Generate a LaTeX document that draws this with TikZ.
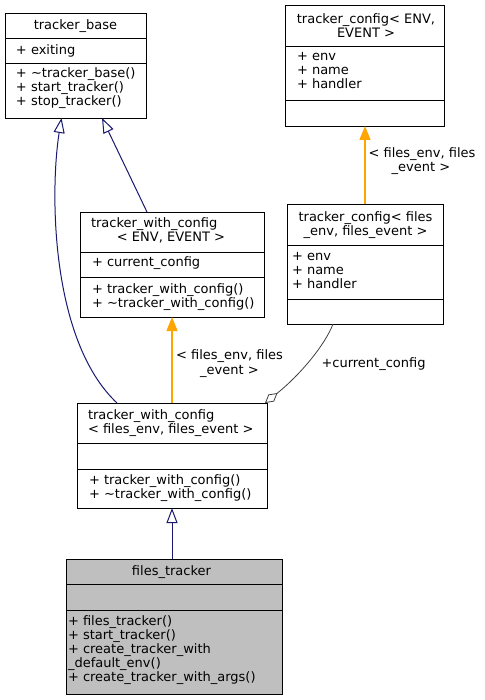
\documentclass[tikz,border=0pt]{standalone}
\usepackage{fontspec}
\setmainfont{DejaVu Sans}
\usetikzlibrary{arrows.meta}
\definecolor{navyc}{HTML}{191970}
\definecolor{orangec}{HTML}{FFA500}
\definecolor{aggc}{HTML}{404040}
\definecolor{grayfill}{HTML}{BFBFBF}
\begin{document}
\begin{tikzpicture}[x=1pt,y=-1pt,
  cls/.style={draw=black, line width=0.9pt, inner sep=0pt, outer sep=0pt, anchor=north west},
  divider/.style={draw=black, line width=0.9pt},
  txt/.style={inner sep=0pt, outer sep=0pt, font=\fontsize{13}{14}\selectfont},
  inh/.style={draw=navyc, line width=1pt, -{Triangle[open, length=15pt, width=11pt]}},
  tmpl/.style={draw=orangec, line width=1.4pt, -{Triangle[length=14pt, width=11pt]}},
  agg/.style={draw=aggc, line width=0.8pt, -{Diamond[open, length=16pt, width=9pt]}}]
\useasboundingbox (0,0) rectangle (484,700);

% ---------- tracker_base ----------
\node[cls, minimum width=141pt, minimum height=105pt] (tb) at (5,13) {};
\draw[divider] (5,38) -- (146,38);
\draw[divider] (5,63) -- (146,63);
\node[txt, anchor=base] (tbt) at (75.5,30) {tracker\_base};
\node[txt, anchor=base west] (tba1) at (16,55) {+ exiting};
\node[txt, anchor=base west] (tbm1) at (16,78) {+ \textasciitilde tracker\_base()};
\node[txt, anchor=base west] (tbm2) at (16,92) {+ start\_tracker()};
\node[txt, anchor=base west] (tbm3) at (16,106) {+ stop\_tracker()};

% ---------- tracker_config< ENV, EVENT > ----------
\node[cls, minimum width=159pt, minimum height=121pt] (tce) at (285,5) {};
\draw[divider] (285,46) -- (444,46);
\draw[divider] (285,100) -- (444,100);
\node[txt, anchor=base] (tcet1) at (366,24) {tracker\_config< ENV,};
\node[txt, anchor=base] (tcet2) at (366,38) {EVENT >};
\node[txt, anchor=base west] (tcea1) at (297,61) {+ env};
\node[txt, anchor=base west] (tcea2) at (297,75) {+ name};
\node[txt, anchor=base west] (tcea3) at (297,89) {+ handler};

% ---------- tracker_with_config< ENV, EVENT > ----------
\node[cls, minimum width=184pt, minimum height=105pt] (twce) at (80,212) {};
\draw[divider] (80,252) -- (264,252);
\draw[divider] (80,277) -- (264,277);
\node[txt, anchor=base west] (twcet1) at (91,228) {tracker\_with\_config};
\node[txt, anchor=base] (twcet2) at (171,242) {< ENV, EVENT >};
\node[txt, anchor=base west] (twcea1) at (92,266) {+ current\_config};
\node[txt, anchor=base west] (twcem1) at (92,293) {+ tracker\_with\_config()};
\node[txt, anchor=base west] (twcem2) at (92,307) {+ \textasciitilde tracker\_with\_config()};

% ---------- tracker_config< files_env, files_event > ----------
\node[cls, minimum width=156pt, minimum height=120pt] (tcf) at (287,204) {};
\draw[divider] (287,245) -- (443,245);
\draw[divider] (287,299) -- (443,299);
\node[txt, anchor=base] (tcft1) at (365.5,222) {tracker\_config< files};
\node[txt, anchor=base] (tcft2) at (365.5,236) {\_env, files\_event >};
\node[txt, anchor=base west] (tcfa1) at (292,260) {+ env};
\node[txt, anchor=base west] (tcfa2) at (292,274) {+ name};
\node[txt, anchor=base west] (tcfa3) at (292,288) {+ handler};

% ---------- tracker_with_config< files_env, files_event > ----------
\node[cls, minimum width=190pt, minimum height=105pt] (twcf) at (77,403) {};
\draw[divider] (77,443) -- (267,443);
\draw[divider] (77,469) -- (267,469);
\node[txt, anchor=base west] (twcft1) at (88,419) {tracker\_with\_config};
\node[txt, anchor=base west] (twcft2) at (88,433) {< files\_env, files\_event >};
\node[txt, anchor=base west] (twcfm1) at (89,484) {+ tracker\_with\_config()};
\node[txt, anchor=base west] (twcfm2) at (89,498) {+ \textasciitilde tracker\_with\_config()};

% ---------- files_tracker ----------
\node[cls, fill=grayfill, minimum width=216pt, minimum height=135pt] (ft) at (66,559) {};
\draw[divider] (66,584) -- (282,584);
\draw[divider] (66,610) -- (282,610);
\node[txt, anchor=base] (ftt) at (171.5,575) {files\_tracker};
\node[txt, anchor=base west] (ftm1) at (68,625) {+ files\_tracker()};
\node[txt, anchor=base west] (ftm2) at (68,639) {+ start\_tracker()};
\node[txt, anchor=base west] (ftm3) at (68,653) {+ create\_tracker\_with};
\node[txt, anchor=base west] (ftm4) at (68,667) {\_default\_env()};
\node[txt, anchor=base west] (ftm5) at (68,681) {+ create\_tracker\_with\_args()};

% ---------- connectors ----------
\draw[inh] ([xshift=40pt]twcf.north west) .. controls (50,340) and (50,190) .. ([xshift=56.5pt]tb.south west);
\draw[inh] ([xshift=67pt]twce.north west) -- ([xshift=97pt]tb.south west);
\draw[tmpl] ([xshift=95pt]twcf.north west) -- ([xshift=92pt]twce.south west);
\draw[tmpl] ([xshift=78pt]tcf.north west) -- ([xshift=80pt]tce.south west);
\draw[agg] ([xshift=46pt]tcf.south west) .. controls (325,345) and (300,375) .. ([xshift=-2pt]twcf.north east);
\draw[inh] ([xshift=106pt]ft.north west) -- ([xshift=95pt]twcf.south west);

% ---------- edge labels ----------
\node[txt, anchor=base] (l1a) at (229.5,359) {< files\_env, files};
\node[txt, anchor=base] (l1b) at (229.5,374) {\_event >};
\node[txt, anchor=base] (l2a) at (422,158) {< files\_env, files};
\node[txt, anchor=base] (l2b) at (421,172) {\_event >};
\node[txt, anchor=base west] (l3) at (321.5,367) {+current\_config};
\end{tikzpicture}
\end{document}
